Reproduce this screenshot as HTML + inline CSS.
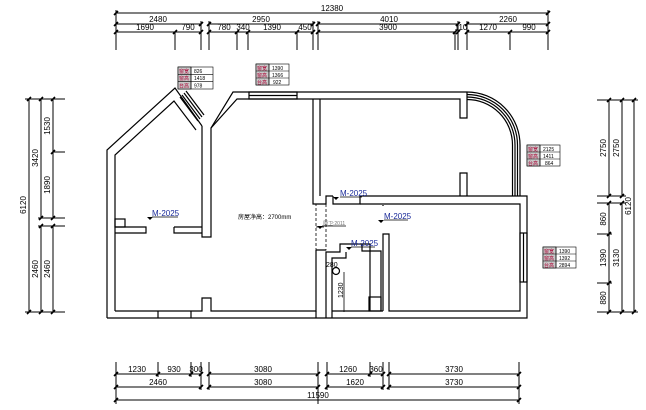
<!DOCTYPE html>
<html><head><meta charset="utf-8"><style>
html,body{margin:0;padding:0;background:#fff;width:646px;height:410px;overflow:hidden}
svg{display:block}
text{font-family:"Liberation Sans","Noto Sans CJK SC",sans-serif}
</style></head><body>
<svg width="646" height="410" viewBox="0 0 646 410" xmlns="http://www.w3.org/2000/svg">
<defs>
<g id="tk"><line x1="-2" y1="2" x2="2" y2="-2" stroke="#000" stroke-width="1.6"/></g>
</defs>
<g stroke="#000" stroke-width="1" fill="none">
<!-- TOP DIMENSIONS -->
<line x1="116" y1="13" x2="548" y2="13"/>
<line x1="116" y1="24" x2="201" y2="24"/><line x1="209" y1="24" x2="313" y2="24"/><line x1="318" y1="24" x2="458" y2="24"/><line x1="467" y1="24" x2="548" y2="24"/>
<line x1="116" y1="32" x2="201" y2="32"/><line x1="209" y1="32" x2="313" y2="32"/><line x1="318" y1="32" x2="456" y2="32"/><line x1="467" y1="32" x2="548" y2="32"/>
<g>
<line x1="116" y1="10" x2="116" y2="50"/><line x1="548" y1="10" x2="548" y2="50"/>
<line x1="201" y1="21" x2="201" y2="50"/><line x1="209" y1="21" x2="209" y2="50"/>
<line x1="313" y1="21" x2="313" y2="50"/><line x1="318" y1="21" x2="318" y2="50"/>
<line x1="458" y1="21" x2="458" y2="50"/><line x1="467" y1="21" x2="467" y2="50"/>
<line x1="175" y1="32" x2="175" y2="50"/><line x1="237" y1="32" x2="237" y2="50"/>
<line x1="248" y1="32" x2="248" y2="50"/><line x1="297" y1="32" x2="297" y2="50"/>
<line x1="455" y1="32" x2="455" y2="50"/><line x1="510" y1="32" x2="510" y2="50"/>
</g>
<!-- BOTTOM DIMENSIONS -->
<line x1="116" y1="374" x2="201" y2="374"/><line x1="209" y1="374" x2="318" y2="374"/><line x1="327" y1="374" x2="383" y2="374"/><line x1="389" y1="374" x2="519" y2="374"/>
<line x1="116" y1="387" x2="201" y2="387"/><line x1="209" y1="387" x2="318" y2="387"/><line x1="327" y1="387" x2="383" y2="387"/><line x1="389" y1="387" x2="519" y2="387"/>
<line x1="116" y1="400" x2="519" y2="400"/>
<line x1="116" y1="362" x2="116" y2="404"/><line x1="519" y1="362" x2="519" y2="404"/>
<line x1="201" y1="362" x2="201" y2="390"/><line x1="209" y1="362" x2="209" y2="390"/>
<line x1="318" y1="362" x2="318" y2="404"/><line x1="327" y1="362" x2="327" y2="390"/>
<line x1="383" y1="362" x2="383" y2="390"/><line x1="389" y1="362" x2="389" y2="390"/>
<line x1="158" y1="362" x2="158" y2="377"/><line x1="191" y1="362" x2="191" y2="377"/><line x1="370" y1="362" x2="370" y2="377"/>
<!-- LEFT DIMENSIONS -->
<line x1="29" y1="99" x2="29" y2="312"/>
<line x1="41" y1="99" x2="41" y2="218"/><line x1="41" y1="226" x2="41" y2="312"/>
<line x1="53" y1="99" x2="53" y2="218"/><line x1="53" y1="226" x2="53" y2="312"/>
<line x1="25" y1="99" x2="65" y2="99"/><line x1="25" y1="312" x2="65" y2="312"/>
<line x1="38" y1="218" x2="65" y2="218"/><line x1="38" y1="226" x2="65" y2="226"/>
<line x1="53" y1="152" x2="65" y2="152"/>
<!-- RIGHT DIMENSIONS -->
<line x1="634" y1="100" x2="634" y2="312"/>
<line x1="609" y1="100" x2="609" y2="196"/><line x1="622" y1="100" x2="622" y2="196"/>
<line x1="609" y1="203" x2="609" y2="312"/><line x1="622" y1="203" x2="622" y2="312"/>
<line x1="597" y1="100" x2="638" y2="100"/><line x1="597" y1="312" x2="638" y2="312"/>
<line x1="597" y1="196" x2="626" y2="196"/><line x1="597" y1="203" x2="626" y2="203"/>
<line x1="597" y1="234" x2="612" y2="234"/><line x1="597" y1="283" x2="612" y2="283"/>
</g>
<!-- tick marks -->
<g>
<use href="#tk" x="116" y="13"/><use href="#tk" x="548" y="13"/>
<use href="#tk" x="116" y="24"/><use href="#tk" x="201" y="24"/><use href="#tk" x="209" y="24"/><use href="#tk" x="313" y="24"/><use href="#tk" x="318" y="24"/><use href="#tk" x="458" y="24"/><use href="#tk" x="467" y="24"/><use href="#tk" x="548" y="24"/>
<use href="#tk" x="116" y="32"/><use href="#tk" x="175" y="32"/><use href="#tk" x="201" y="32"/><use href="#tk" x="209" y="32"/><use href="#tk" x="237" y="32"/><use href="#tk" x="248" y="32"/><use href="#tk" x="297" y="32"/><use href="#tk" x="313" y="32"/><use href="#tk" x="318" y="32"/><use href="#tk" x="455" y="32"/><use href="#tk" x="458" y="32"/><use href="#tk" x="467" y="32"/><use href="#tk" x="510" y="32"/><use href="#tk" x="548" y="32"/>
<use href="#tk" x="116" y="374"/><use href="#tk" x="158" y="374"/><use href="#tk" x="191" y="374"/><use href="#tk" x="201" y="374"/><use href="#tk" x="209" y="374"/><use href="#tk" x="318" y="374"/><use href="#tk" x="327" y="374"/><use href="#tk" x="370" y="374"/><use href="#tk" x="383" y="374"/><use href="#tk" x="389" y="374"/><use href="#tk" x="519" y="374"/>
<use href="#tk" x="116" y="387"/><use href="#tk" x="201" y="387"/><use href="#tk" x="209" y="387"/><use href="#tk" x="318" y="387"/><use href="#tk" x="327" y="387"/><use href="#tk" x="383" y="387"/><use href="#tk" x="389" y="387"/><use href="#tk" x="519" y="387"/>
<use href="#tk" x="116" y="400"/><use href="#tk" x="519" y="400"/>
<use href="#tk" x="29" y="99"/><use href="#tk" x="41" y="99"/><use href="#tk" x="53" y="99"/><use href="#tk" x="53" y="152"/><use href="#tk" x="41" y="218"/><use href="#tk" x="53" y="218"/><use href="#tk" x="41" y="226"/><use href="#tk" x="53" y="226"/><use href="#tk" x="29" y="312"/><use href="#tk" x="41" y="312"/><use href="#tk" x="53" y="312"/>
<use href="#tk" x="609" y="100"/><use href="#tk" x="622" y="100"/><use href="#tk" x="634" y="100"/><use href="#tk" x="609" y="196"/><use href="#tk" x="622" y="196"/><use href="#tk" x="609" y="203"/><use href="#tk" x="622" y="203"/><use href="#tk" x="609" y="234"/><use href="#tk" x="609" y="283"/><use href="#tk" x="609" y="312"/><use href="#tk" x="622" y="312"/><use href="#tk" x="634" y="312"/>
</g>
<!-- dimension text -->
<g font-size="8" fill="#000" text-anchor="middle">
<text x="332" y="11">12380</text>
<text x="158" y="22">2480</text><text x="261" y="22">2950</text><text x="389" y="22">4010</text><text x="508" y="22">2260</text>
<text x="145" y="30">1690</text><text x="188" y="30">790</text><text x="224" y="30">780</text><text x="243" y="30">340</text><text x="272" y="30">1390</text><text x="305" y="30">450</text><text x="388" y="30">3900</text><text x="461" y="30">110</text><text x="488" y="30">1270</text><text x="529" y="30">990</text>
<text x="137" y="372">1230</text><text x="174" y="372">930</text><text x="196" y="372">300</text><text x="263" y="372">3080</text><text x="348" y="372">1260</text><text x="376" y="372">360</text><text x="454" y="372">3730</text>
<text x="158" y="385">2460</text><text x="263" y="385">3080</text><text x="355" y="385">1620</text><text x="454" y="385">3730</text>
<text x="318" y="398">11590</text>
<text transform="translate(26,205) rotate(-90)">6120</text>
<text transform="translate(38,158) rotate(-90)">3420</text>
<text transform="translate(50,126) rotate(-90)">1530</text>
<text transform="translate(50,185) rotate(-90)">1890</text>
<text transform="translate(38,269) rotate(-90)">2460</text>
<text transform="translate(50,269) rotate(-90)">2460</text>
<text transform="translate(606,148) rotate(-90)">2750</text>
<text transform="translate(619,148) rotate(-90)">2750</text>
<text transform="translate(631,206) rotate(-90)">6120</text>
<text transform="translate(606,219) rotate(-90)">860</text>
<text transform="translate(606,258) rotate(-90)">1390</text>
<text transform="translate(619,258) rotate(-90)">3130</text>
<text transform="translate(606,298) rotate(-90)">880</text>
</g>
<!-- WALLS -->
<g stroke="#000" stroke-width="1.2" fill="none">
<!-- outer envelope -->
<path d="M107,318 L107,150 L175,88 L202,126"/>
<path d="M115,311 L115,155 L174,101 L196,130"/>
<path d="M202,126 L202,237 L211,237 L211,128 L233,92 L467,92"/>
<path d="M211,128 L237,99 L460,99 L460,118 L467,118 L467,92"/>
<!-- bay window -->
<path d="M467,92 A53,53 0 0 1 520,145 L520,196"/>
<path d="M467,94.5 A50.5,50.5 0 0 1 517.5,145 L517.5,196"/>
<path d="M467,97 A48,48 0 0 1 515,145 L515,196"/>
<path d="M467,99.5 A45.5,45.5 0 0 1 512.5,145 L512.5,196"/>
<!-- windows -->
<rect x="249" y="92" width="48" height="7"/>
<line x1="249" y1="95.5" x2="297" y2="95.5"/>
<path d="M182,95 L200,119 M184,93 L202,117 M186,91 L204,115 M180,97 L198,121"/>
<!-- bottom wall -->
<path d="M107,318 L527,318 L527,196 L512,196"/>
<path d="M115,311 L202,311 L202,298 L211,298 L211,311 L316,311 L316,250"/>
<line x1="158" y1="311" x2="158" y2="318"/><line x1="191" y1="311" x2="191" y2="318"/>
<!-- left room partition -->
<path d="M115,227 L146,227 L146,233 L115,233"/>
<path d="M174,227 L202,227 M174,227 L174,233 L202,233"/>
<rect x="115" y="219" width="10" height="8"/>
<!-- living/bedroom wall -->
<path d="M313,99 L313,204 L326,204 L326,196 L333,196"/>
<path d="M320,99 L320,196"/>
<path d="M333,196 L333,204 L360,204 L360,196 L512,196"/>
<path d="M360,204 L520,204 L520,311 L389,311 L389,234 L383,234 L383,311"/>
<path d="M383,205 L383,206"/>
<!-- stub walls in bedroom -->
<path d="M460,196 L460,173 L467,173 L467,196"/>
<!-- right window -->
<rect x="520" y="233" width="7" height="49"/><line x1="523.5" y1="233" x2="523.5" y2="282"/>
<!-- bathroom -->
<path d="M326,318 L326,252 L340,252 L340,244 L370,244 L370,311"/>
<path d="M316,250 L326,250 M316,318 L316,311"/>
<path d="M332,318 L332,258 L346,258 L346,252"/>
<path d="M362,244 L362,251 L381,251 L381,311"/>
<rect x="369" y="297" width="12" height="14"/>
<path d="M332,311 L383,311"/>
</g>
<!-- dashed door -->
<g stroke="#000" stroke-width="0.8" stroke-dasharray="3,2" fill="none">
<rect x="316" y="204" width="10" height="46"/>
<line x1="316" y1="227" x2="326" y2="227"/>
</g>
<!-- symbols -->
<circle cx="336" cy="271" r="3.5" fill="none" stroke="#000" stroke-width="1.2"/>
<line x1="344" y1="272" x2="344" y2="312" stroke="#000" stroke-width="0.8"/>
<g font-size="7" fill="#000">
<text x="326" y="267">280</text>
<text transform="translate(343,298) rotate(-90)">1230</text>
</g>
<!-- door labels -->
<g font-size="8" fill="#1a2a9a">
<text x="152" y="216">M-2025</text>
<text x="340" y="196">M-2025</text>
<text x="384" y="219">M-2025</text>
<text x="351" y="246">M-2025</text>
</g>
<g stroke="#000" stroke-width="0.8">
<line x1="152" y1="217" x2="178" y2="217"/><line x1="340" y1="197" x2="362" y2="197"/><line x1="384" y1="220" x2="408" y2="220"/><line x1="351" y1="247" x2="375" y2="247"/><line x1="322" y1="226" x2="346" y2="226"/>
</g>
<g fill="#000">
<polygon points="147,217 153,217 150,220"/><polygon points="333,197 339,197 336,200"/><polygon points="378,220 384,220 381,223"/><polygon points="346,247 352,247 349,250"/><polygon points="317,226 323,226 320,229"/>
</g>
<text x="238" y="219" font-size="6" fill="#000">房屋净高：2700mm</text>
<text x="323" y="225" font-size="5" fill="#777">厨卫:2011</text>
<!-- window tables -->
<g font-size="5" stroke="#000" stroke-width="0.6">
<g transform="translate(178,67)"><rect width="35" height="22" fill="#fff"/><rect width="13" height="22" fill="#c8c8c8"/><line x1="0" y1="7.3" x2="35" y2="7.3"/><line x1="0" y1="14.6" x2="35" y2="14.6"/><line x1="13" y1="0" x2="13" y2="22"/>
<g stroke="none"><text x="1" y="6" fill="#a03">窗宽</text><text x="1" y="13" fill="#a03">窗高</text><text x="1" y="20.5" fill="#a03">台高</text><text x="16" y="6" fill="#000">826</text><text x="16" y="13" fill="#000">1418</text><text x="16" y="20.5" fill="#000">978</text></g></g>
<g transform="translate(256,64)"><rect width="33" height="21" fill="#fff"/><rect width="13" height="21" fill="#c8c8c8"/><line x1="0" y1="7" x2="33" y2="7"/><line x1="0" y1="14" x2="33" y2="14"/><line x1="13" y1="0" x2="13" y2="21"/>
<g stroke="none"><text x="1" y="6" fill="#a03">窗宽</text><text x="1" y="13" fill="#a03">窗高</text><text x="1" y="20" fill="#a03">台高</text><text x="16" y="6" fill="#000">1390</text><text x="16" y="13" fill="#000">1366</text><text x="17" y="20" fill="#000">922</text></g></g>
<g transform="translate(527,145)"><rect width="33" height="21" fill="#fff"/><rect width="13" height="21" fill="#c8c8c8"/><line x1="0" y1="7" x2="33" y2="7"/><line x1="0" y1="14" x2="33" y2="14"/><line x1="13" y1="0" x2="13" y2="21"/>
<g stroke="none"><text x="1" y="6" fill="#a03">窗宽</text><text x="1" y="13" fill="#a03">窗高</text><text x="1" y="20" fill="#a03">台高</text><text x="16" y="6" fill="#000">2125</text><text x="16" y="13" fill="#000">1411</text><text x="18" y="20" fill="#000">864</text></g></g>
<g transform="translate(543,247)"><rect width="33" height="21" fill="#fff"/><rect width="13" height="21" fill="#c8c8c8"/><line x1="0" y1="7" x2="33" y2="7"/><line x1="0" y1="14" x2="33" y2="14"/><line x1="13" y1="0" x2="13" y2="21"/>
<g stroke="none"><text x="1" y="6" fill="#a03">窗宽</text><text x="1" y="13" fill="#a03">窗高</text><text x="1" y="20" fill="#a03">台高</text><text x="16" y="6" fill="#000">1390</text><text x="16" y="13" fill="#000">1392</text><text x="16" y="20" fill="#000">2894</text></g></g>
</g>
</svg>
</body></html>
